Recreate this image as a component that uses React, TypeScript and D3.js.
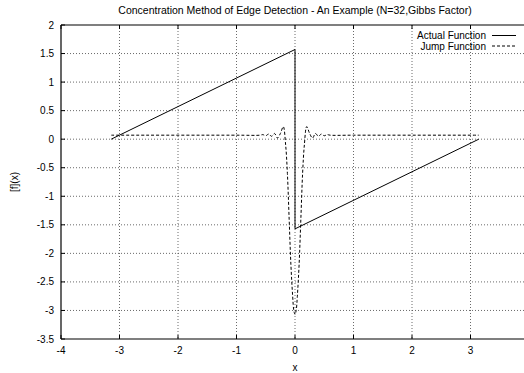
import React from "react";
import * as d3 from "d3";

const title = "Concentration Method of Edge Detection - An Example (N=32,Gibbs Factor)";
const xTicks = [-4, -3, -2, -1, 0, 1, 2, 3];
const yTicks = [2, 1.5, 1, 0.5, 0, -0.5, -1, -1.5, -2, -2.5, -3, -3.5];
const yTickLabels = ["2", "1.5", "1", "0.5", "0", "-0.5", "-1", "-1.5", "-2", "-2.5", "-3", "-3.5"];
const seriesNames = ["Actual Function", "Jump Function"];

const actualX = [-3.1416, 0, 0, 3.1416];
const actualY = [0, 1.5708, -1.5708, 0];

const jumpX = [-3.14, -1.0, -0.6, -0.55, -0.5, -0.45, -0.4, -0.35, -0.3, -0.25, -0.2, -0.16, -0.13, -0.1, -0.07, -0.04, -0.02, 0, 0.02, 0.04, 0.07, 0.1, 0.13, 0.16, 0.2, 0.25, 0.3, 0.35, 0.4, 0.45, 0.5, 0.55, 0.6, 1.0, 3.14];
const jumpY = [0.07, 0.07, 0.07, 0.08, 0.06, 0.09, 0.05, 0.1, 0.02, 0.1, 0.22, -0.1, -0.6, -1.4, -2.2, -2.75, -3.0, -3.07, -3.0, -2.75, -2.2, -1.4, -0.6, -0.1, 0.22, 0.1, 0.02, 0.1, 0.05, 0.09, 0.06, 0.08, 0.07, 0.07, 0.07];

export default function App() {
  const W = 524, H = 373;
  const x = d3.scaleLinear().domain([-4, 4]).range([61, 529]);
  const y = d3.scaleLinear().domain([-3.5, 2]).range([339, 25]);
  const line = d3.line<[number, number]>().x(d => x(d[0])).y(d => y(d[1]));
  const smooth = d3.line<[number, number]>().x(d => x(d[0])).y(d => y(d[1])).curve(d3.curveCatmullRom.alpha(0.5));
  const actual = actualX.map((v, i) => [v, actualY[i]] as [number, number]);
  const jump = jumpX.map((v, i) => [v, jumpY[i]] as [number, number]);
  const font = "'Liberation Sans', Arial, sans-serif";
  return (
    <svg width={W} height={H} style={{ position: "absolute", left: 0, top: 0, background: "#fff" }} fontFamily={font}>
      <rect x={0} y={0} width={W} height={H} fill="#fff" />
      <text x={295} y={14} fontSize={10.5} textAnchor="middle">{title}</text>
      {/* grid */}
      {xTicks.filter(t => t !== -4).map(t => (
        <line key={"gx" + t} x1={x(t)} x2={x(t)} y1={y(2)} y2={y(-3.5)} stroke="#444" strokeWidth={0.8} strokeDasharray="1,2" />
      ))}
      {yTicks.filter(t => t !== 2 && t !== -3.5).map(t => (
        <line key={"gy" + t} x1={x(-4)} x2={W} y1={y(t)} y2={y(t)} stroke="#444" strokeWidth={0.8} strokeDasharray="1,2" />
      ))}
      {/* border */}
      <line x1={x(-4)} x2={W} y1={y(2)} y2={y(2)} stroke="#000" strokeWidth={1.2} />
      <line x1={x(-4)} x2={W} y1={y(-3.5)} y2={y(-3.5)} stroke="#000" strokeWidth={1.2} />
      <line x1={x(-4)} x2={x(-4)} y1={y(2)} y2={y(-3.5)} stroke="#000" strokeWidth={1.2} />
      {/* ticks */}
      {xTicks.map(t => (
        <g key={"tx" + t}>
          <line x1={x(t)} x2={x(t)} y1={y(-3.5)} y2={y(-3.5) - 4} stroke="#000" />
          <line x1={x(t)} x2={x(t)} y1={y(2)} y2={y(2) + 4} stroke="#000" />
          <text x={x(t)} y={354} fontSize={10} textAnchor="middle">{t}</text>
        </g>
      ))}
      {yTicks.map((t, i) => (
        <g key={"ty" + t}>
          <line x1={x(-4)} x2={x(-4) + 4} y1={y(t)} y2={y(t)} stroke="#000" />
          <text x={54} y={y(t) + 3.5} fontSize={10} textAnchor="end">{yTickLabels[i]}</text>
        </g>
      ))}
      <text x={295} y={371} fontSize={10} textAnchor="middle">x</text>
      <text transform={`translate(18,182) rotate(-90)`} fontSize={10} textAnchor="middle">[f](x)</text>
      {/* series */}
      <path d={line(actual) || ""} fill="none" stroke="#000" strokeWidth={1} />
      <path d={smooth(jump) || ""} fill="none" stroke="#000" strokeWidth={1} strokeDasharray="3,2" />
      {/* legend */}
      <text x={486} y={39} fontSize={10} textAnchor="end">{seriesNames[0]}</text>
      <line x1={492} x2={516} y1={35.5} y2={35.5} stroke="#000" strokeWidth={1} />
      <text x={486} y={49.5} fontSize={10} textAnchor="end">{seriesNames[1]}</text>
      <line x1={492} x2={516} y1={46} y2={46} stroke="#000" strokeWidth={1} strokeDasharray="3,2" />
    </svg>
  );
}
